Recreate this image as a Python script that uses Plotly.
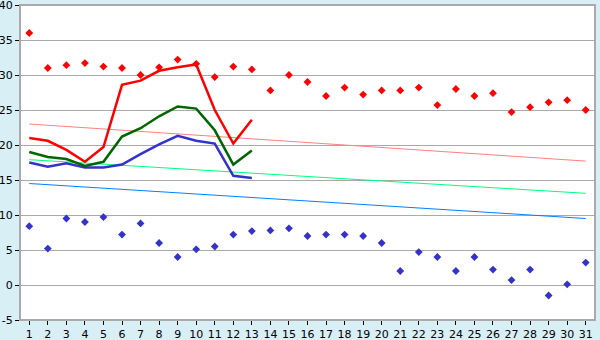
import plotly.graph_objects as go

days = list(range(1, 32))
max_pts = [36.0, 31.0, 31.4, 31.7, 31.2, 31.0, 30.0, 31.1, 32.2, 31.6,
           29.7, 31.2, 30.8, 27.8, 30.0, 29.0, 27.0, 28.2, 27.2, 27.8,
           27.8, 28.2, 25.7, 28.0, 27.0, 27.4, 24.7, 25.4, 26.1, 26.4, 25.0]
min_pts = [8.4, 5.2, 9.5, 9.0, 9.7, 7.2, 8.8, 6.0, 4.0, 5.1,
           5.5, 7.2, 7.7, 7.8, 8.1, 7.0, 7.2, 7.2, 7.0, 6.0,
           2.0, 4.7, 4.0, 2.0, 4.0, 2.2, 0.7, 2.2, -1.5, 0.1, 3.2]

line_days = list(range(1, 14))
red_line = [21.0, 20.6, 19.3, 17.6, 19.7, 28.6, 29.2, 30.6, 31.1, 31.5, 25.0, 20.2, 23.6]
green_line = [19.0, 18.3, 18.0, 17.0, 17.6, 21.2, 22.4, 24.1, 25.5, 25.2, 22.1, 17.2, 19.2]
blue_line = [17.5, 16.9, 17.4, 16.8, 16.8, 17.2, 18.7, 20.1, 21.3, 20.6, 20.2, 15.6, 15.3]

trend_x = [1, 31]
trend_max = [23.0, 17.7]
trend_mean = [17.9, 13.1]
trend_min = [14.5, 9.5]

y_ticks = [-5, 0, 5, 10, 15, 20, 25, 30, 35, 40]

fig = go.Figure()
fig.add_trace(go.Scatter(x=trend_x, y=trend_max, mode="lines", line=dict(color="#ff8080", width=1)))
fig.add_trace(go.Scatter(x=trend_x, y=trend_mean, mode="lines", line=dict(color="#00ff80", width=1)))
fig.add_trace(go.Scatter(x=trend_x, y=trend_min, mode="lines", line=dict(color="#0080ff", width=1)))
fig.add_trace(go.Scatter(x=line_days, y=blue_line, mode="lines", line=dict(color="#3333cc", width=2.5)))
fig.add_trace(go.Scatter(x=line_days, y=green_line, mode="lines", line=dict(color="#006600", width=2.5)))
fig.add_trace(go.Scatter(x=line_days, y=red_line, mode="lines", line=dict(color="#ff0000", width=2.5)))
fig.add_trace(go.Scatter(x=days, y=max_pts, mode="markers",
                         marker=dict(symbol="diamond", size=6, color="#ff0000")))
fig.add_trace(go.Scatter(x=days, y=min_pts, mode="markers",
                         marker=dict(symbol="diamond", size=6, color="#3333cc")))

fig.update_layout(
    width=600, height=340,
    margin=dict(l=20, r=5, t=5, b=20),
    paper_bgcolor="#d9eff6", plot_bgcolor="#ffffff",
    showlegend=False,
    font=dict(family="DejaVu Sans", size=11, color="#000000"),
    xaxis=dict(range=[0.5, 31.5], tickmode="array", tickvals=days,
               ticktext=[str(d) for d in days], automargin=False,
               ticklabeloverflow="allow",
               showgrid=False, zeroline=False, ticks="outside", ticklen=4,
               tickcolor="#000000", showline=False),
    yaxis=dict(range=[-5, 40], tickmode="array", tickvals=y_ticks,
               ticktext=[str(v) for v in y_ticks], automargin=False,
               ticklabeloverflow="allow",
               showgrid=True, gridcolor="#aaaaaa",
               gridwidth=1, zeroline=False, ticks="outside", ticklen=4,
               tickcolor="#000000", showline=False),
)
fig.add_shape(type="rect", xref="paper", yref="paper", x0=0, x1=1, y0=0, y1=1,
              line=dict(color="#aaaaaa", width=2), layer="above")

fig.write_html("out.html")
